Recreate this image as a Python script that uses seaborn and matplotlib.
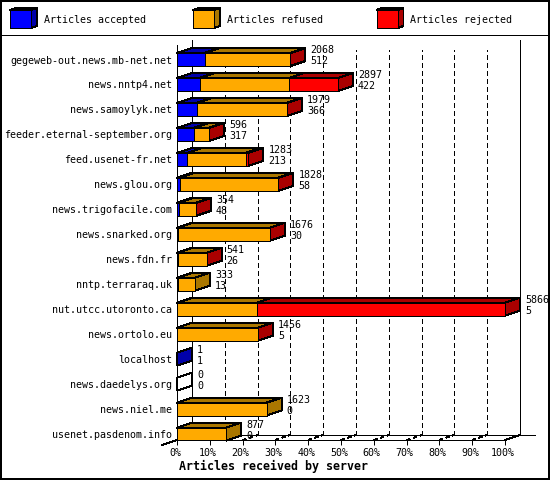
import matplotlib
matplotlib.use("Agg")
import matplotlib.pyplot as plt
import seaborn as sns
from matplotlib.patches import Polygon, Rectangle
from matplotlib.transforms import ScaledTranslation

servers = ["gegeweb-out.news.mb-net.net", "news.nntp4.net", "news.samoylyk.net",
           "feeder.eternal-september.org", "feed.usenet-fr.net", "news.glou.org",
           "news.trigofacile.com", "news.snarked.org", "news.fdn.fr", "nntp.terraraq.uk",
           "nut.utcc.utoronto.ca", "news.ortolo.eu", "localhost", "news.daedelys.org",
           "news.niel.me", "usenet.pasdenom.info"]

# share of the longest bar (percent)
accepted = [8.4, 6.9, 6.0, 5.1, 3.2, 0.8, 0.5, 0.2, 0.2, 0.2, 0.1, 0.1, 0.02, 0, 0, 0]
refused = [26.1, 27.15, 27.4, 4.6, 17.8, 29.9, 5.2, 28.1, 8.8, 5.3, 24.2, 24.55, 0, 0, 27.35, 14.95]
rejected = [0.1, 15.0, 0.1, 0.05, 0.75, 0.2, 0.1, 0.05, 0.05, 0, 75.7, 0.05, 0, 0, 0, 0]

# the two numbers printed next to each bar
totals = [2068, 2897, 1979, 596, 1283, 1828, 354, 1676, 541, 333, 5866, 1456, 1, 0, 1623, 877]
accepted_counts = [512, 422, 366, 317, 213, 58, 48, 30, 26, 13, 5, 5, 1, 0, 0, 0]

pct_ticks = list(range(0, 101, 10))
legend_names = ["Articles accepted", "Articles refused", "Articles rejected"]

BLUE, BLUE_DARK = "#0000ff", "#0000aa"
GOLD, GOLD_DARK = "#ffaa00", "#aa7700"
RED, RED_DARK = "#ff0000", "#aa0000"
LW = 0.72  # one pixel at dpi 100
FS = 7.2

sns.set_style("white")
plt.rcParams["font.family"] = ["DejaVu Sans Mono"]
plt.rcParams["font.size"] = FS
plt.rcParams["text.color"] = "black"
plt.rcParams["axes.labelcolor"] = "black"
plt.rcParams["xtick.color"] = "black"
plt.rcParams["ytick.color"] = "black"
plt.rcParams["patch.antialiased"] = False
plt.rcParams["lines.antialiased"] = False

W, H = 550, 480
fig = plt.figure(figsize=(W / 100, H / 100), dpi=100)

# background layer in pixel coordinates: frame and legend
bg = fig.add_axes([0, 0, 1, 1], zorder=0)
bg.set_xlim(0, W)
bg.set_ylim(H, 0)
bg.axis("off")
bg.add_patch(Rectangle((0.5, 0.5), W - 1.5, H - 1.5, fill=False, edgecolor="black", linewidth=1.1))
bg.plot([0, W], [35, 35], color="black", linewidth=LW)

for x0, name, front, dark in zip([10, 193, 376.5], legend_names, [BLUE, GOLD, RED],
                                 [BLUE_DARK, GOLD_DARK, RED_DARK]):
    bg.add_patch(Polygon([(x0, 10), (x0 + 6, 8), (x0 + 27, 8), (x0 + 21, 10)], facecolor=dark, edgecolor="black", linewidth=LW))
    bg.add_patch(Polygon([(x0 + 21, 10), (x0 + 27, 8), (x0 + 27, 26), (x0 + 21, 28)], facecolor=dark, edgecolor="black", linewidth=LW))
    bg.add_patch(Rectangle((x0, 10), 21, 18, facecolor=front, edgecolor="black", linewidth=LW))
    bg.text(x0 + 34, 20, name, va="center", ha="left", fontsize=FS)

# main axes: front plane of the chart
ax_left, ax_right, ax_top, ax_bottom = 177, 505, 45, 440
ax = fig.add_axes([ax_left / W, 1 - ax_bottom / H, (ax_right - ax_left) / W, (ax_bottom - ax_top) / H], zorder=1)
ax.patch.set_alpha(0)

cum_refused = [a + r for a, r in zip(accepted, refused)]
cum_total = [c + r for c, r in zip(cum_refused, rejected)]

# stacked bars, longest first
for values, color in [(cum_total, RED), (cum_refused, GOLD), (accepted, BLUE)]:
    sns.barplot(x=values, y=servers, order=servers, orient="h", color=color, saturation=1,
                width=0.52, edgecolor="black", linewidth=LW, errorbar=None, ax=ax, zorder=4)

row_step = 24.97
ax.set_xlim(0, 100)
ax.set_ylim((ax_bottom - 59.5) / row_step, (ax_top - 59.5) / row_step)

dx = 15 * 100 / (ax_right - ax_left)
dy = 5 / row_step
half = 0.26
floor = (ax_bottom - 59.5) / row_step
wall_top = (40 - 59.5) / row_step

# back wall and floor
ax.plot([dx, dx], [floor - dy, wall_top], color="black", linewidth=LW, clip_on=False, zorder=1)
ax.plot([100 + dx, 100 + dx], [floor - dy, wall_top], color="black", linewidth=LW, clip_on=False, zorder=1)
for p in pct_ticks[1:-1]:
    ax.plot([p + dx, p + dx], [floor - dy, -0.38], color="black", linewidth=LW, linestyle=(0, (5, 4)), clip_on=False, zorder=1)
    ax.plot([p, p + dx], [floor, floor - dy], color="black", linewidth=LW, linestyle=(0, (4, 3)), clip_on=False, zorder=2)
ax.plot([0, 100 + 2 * dx], [floor - dy, floor - dy], color="black", linewidth=LW, clip_on=False, zorder=1)
ax.plot([100, 100 + dx], [floor, floor - dy], color="black", linewidth=LW, clip_on=False, zorder=2)
ax.plot([0, -dx], [floor, floor + dy], color="black", linewidth=LW, clip_on=False, zorder=2)

# top and side faces of each bar
label_gap = (dx + 5 * 100 / 328)
for i in range(len(servers)):
    top = i - half
    bottom = i + half
    for start, end, dark in [(0, accepted[i], BLUE_DARK),
                             (accepted[i], cum_refused[i], GOLD_DARK),
                             (cum_refused[i], cum_total[i], RED_DARK)]:
        if end > start:
            ax.add_patch(Polygon([(start, top), (start + dx, top - dy), (end + dx, top - dy), (end, top)],
                                 facecolor=dark, edgecolor="black", linewidth=LW, clip_on=False, zorder=3))
    if rejected[i] > 0:
        side = RED_DARK
    elif refused[i] > 0:
        side = GOLD_DARK
    elif accepted[i] > 0:
        side = BLUE_DARK
    else:
        side = "white"
    end = cum_total[i]
    ax.add_patch(Polygon([(end, top), (end + dx, top - dy), (end + dx, bottom - dy), (end, bottom)],
                         facecolor=side, edgecolor="black", linewidth=LW, clip_on=False, zorder=3))
    # value labels
    ax.text(end + label_gap, i - 9.5 / row_step, str(totals[i]), va="center", ha="left", clip_on=False, zorder=5)
    ax.text(end + label_gap, i + 1.5 / row_step, str(accepted_counts[i]), va="center", ha="left", clip_on=False, zorder=5)

# axes styling
sns.despine(ax=ax, top=True, right=True)
for s in ["left", "bottom"]:
    ax.spines[s].set_linewidth(LW)
    ax.spines[s].set_color("black")
    ax.spines[s].set_zorder(5)
ax.set_xticks(pct_ticks)
ax.set_xticklabels([f"{p}%" for p in pct_ticks])
ax.tick_params(axis="x", bottom=True, length=3.6, width=LW, color="black", labelcolor="black", pad=2, labelsize=FS)
ax.tick_params(axis="y", left=False, length=0, labelcolor="black", pad=3.6, labelsize=FS)
ax.set_ylabel("")
shift = ScaledTranslation(-2 / 100, 0, fig.dpi_scale_trans)
for label in ax.get_xticklabels():
    label.set_transform(label.get_transform() + shift)

ax.set_xlabel("Articles received by server", fontweight="bold", fontsize=8.4, color="black")
ax.xaxis.set_label_coords((273.5 - ax_left) / (ax_right - ax_left), -(466.7 - ax_bottom) / (ax_bottom - ax_top), transform=ax.transAxes)
ax.xaxis.label.set_va("center")

fig.savefig("out.png", dpi=100)
